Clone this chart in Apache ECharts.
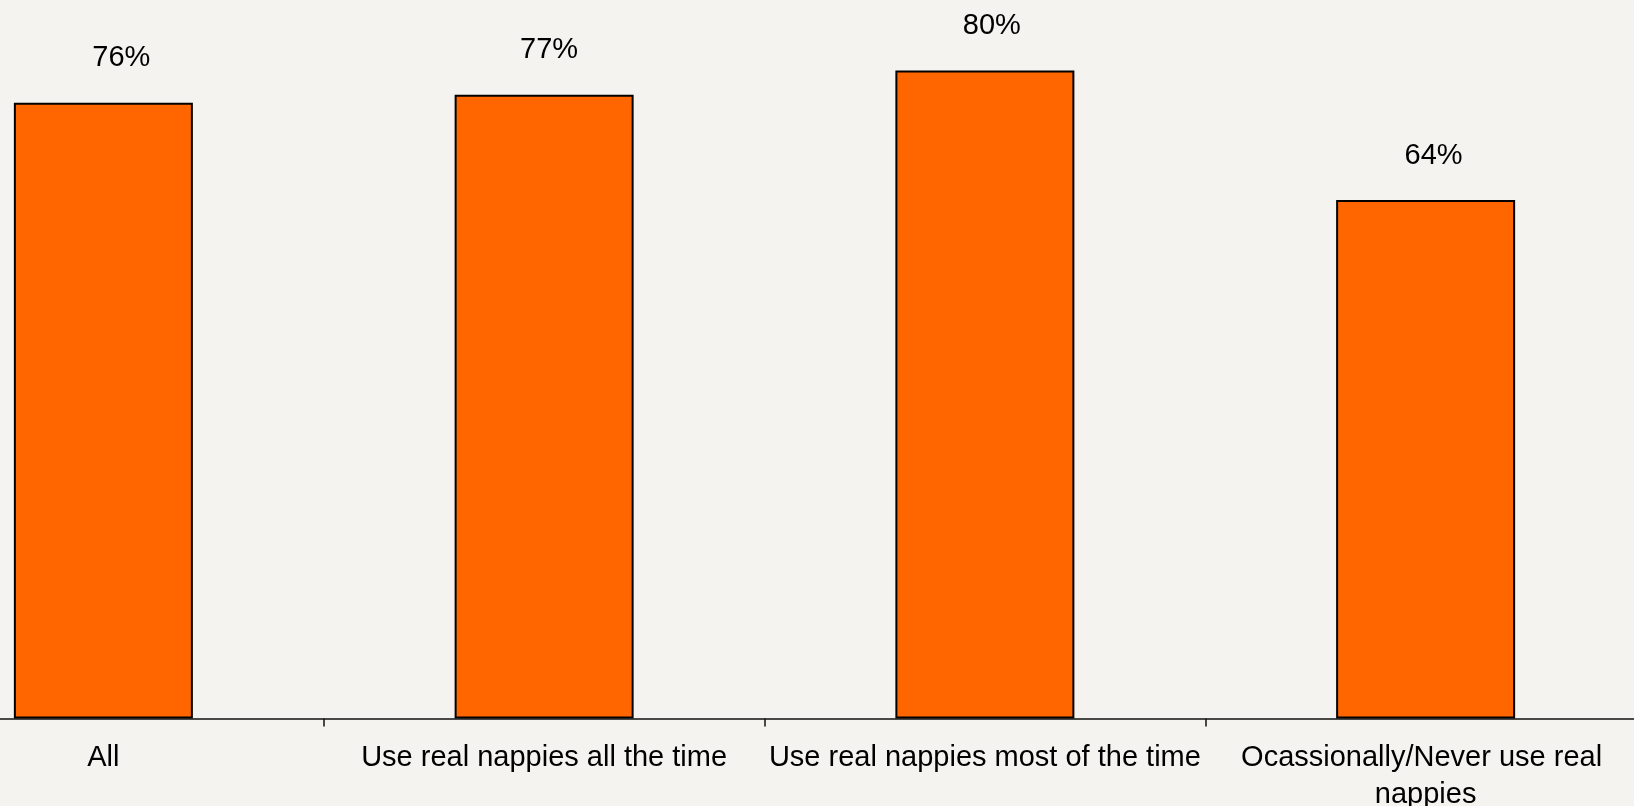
<!DOCTYPE html>
<html>
<head>
<meta charset="utf-8">
<script src="https://cdn.jsdelivr.net/npm/echarts@6/dist/echarts.min.js"></script>
<style>
  html, body { margin: 0; padding: 0; background: #F4F3EF; overflow: hidden; }
  #wrap { width: 1634px; height: 806px; overflow: hidden; position: relative; }
  /* plot runs past both page edges, so the outer category bounds fall off-screen */
  #chart { position: absolute; left: -117px; top: 0; width: 1763px; height: 806px; }
</style>
</head>
<body>
<div id="wrap"><div id="chart"></div></div>
<script>
// Share of respondents by nappy usage group
const categories = [
  'All',
  'Use real nappies all the time',
  'Use real nappies most of the time',
  'Ocassionally/Never use real nappies'
];
const shares = [76, 77, 80, 64];

// horizontal nudge of each value label (px), kept apart from the data
const labelNudge = [18, 5, 7, 8];

const chart = echarts.init(document.getElementById('chart'));
chart.setOption({
  backgroundColor: '#F4F3EF',
  animation: false,
  grid: { left: 0, right: 0, top: 0, bottom: 87.5, outerBoundsMode: 'none', containLabel: false },
  xAxis: {
    type: 'category',
    data: categories,
    boundaryGap: true,
    axisLine: { show: true, lineStyle: { color: '#111', width: 1.5 } },
    axisTick: { show: true, length: 8, alignWithLabel: false, lineStyle: { color: '#111', width: 1.5 } },
    axisLabel: {
      interval: 0,
      margin: 21,
      color: '#000',
      fontFamily: 'Liberation Sans, Arial, sans-serif',
      fontSize: 29,
      lineHeight: 37,
      width: 438,
      overflow: 'break'
    }
  },
  yAxis: {
    type: 'value',
    min: 0,
    max: 88.7,
    show: false,
    splitLine: { show: false }
  },
  series: [{
    type: 'bar',
    data: shares.map((v, i) => ({ value: v, label: { offset: [labelNudge[i], 0] } })),
    barWidth: 179,
    itemStyle: { color: '#FF6600', borderColor: '#000', borderWidth: 2 },
    label: {
      show: true,
      position: 'top',
      distance: 30,
      formatter: '{c}%',
      color: '#000',
      fontFamily: 'Liberation Sans, Arial, sans-serif',
      fontSize: 29
    }
  }]
});
</script>
</body>
</html>
